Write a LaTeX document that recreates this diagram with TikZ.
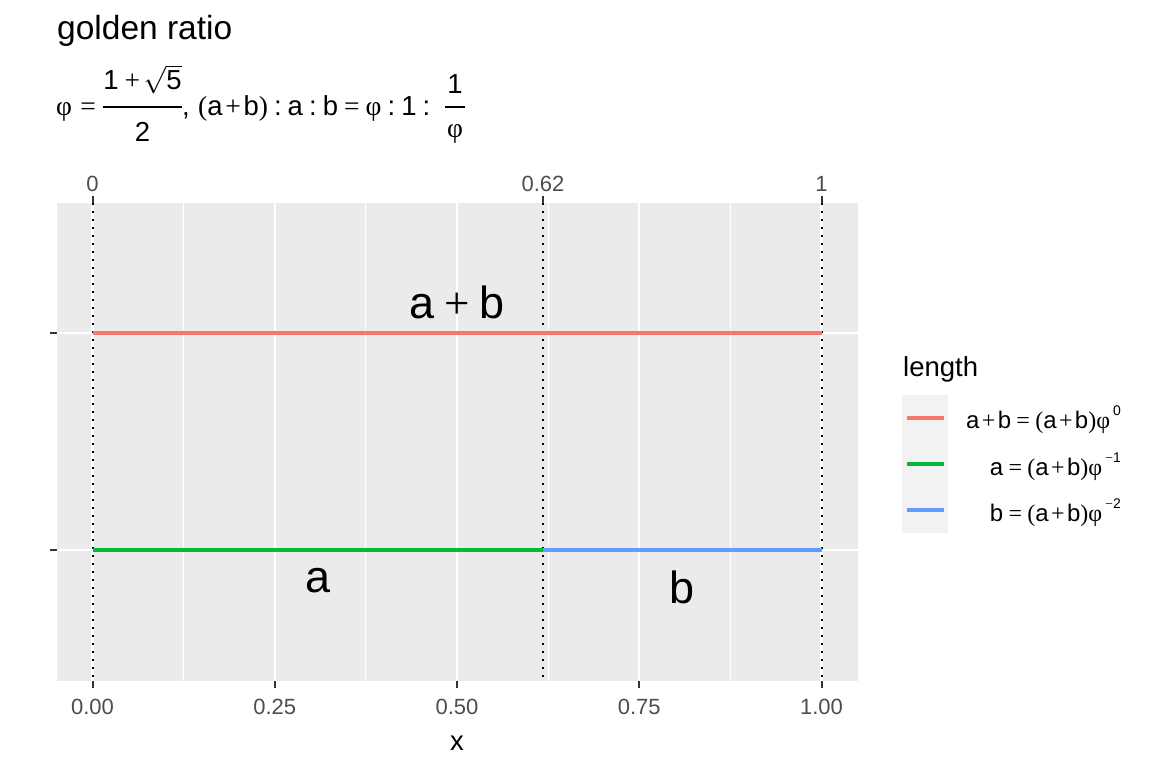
\RequirePackage{fix-cm}
\documentclass[tikz,border=0pt]{standalone}
\usepackage{fontspec}
\setmainfont{Liberation Sans}
\newfontfamily\tms{Liberation Serif}
\definecolor{panelbg}{HTML}{EBEBEB}
\definecolor{keybg}{HTML}{F2F2F2}
\definecolor{ggred}{HTML}{F8766D}
\definecolor{gggreen}{HTML}{00BA38}
\definecolor{ggblue}{HTML}{619CFF}
\definecolor{tickc}{HTML}{333333}
\definecolor{labc}{HTML}{4D4D4D}
\newcommand\gph{{\tms φ}}
\newcommand\gop[1]{\hspace{.2em}{\tms #1}\hspace{.2em}}
\newcommand\gpl{\hspace{.1em}{\tms +}\hspace{.1em}}
\newcommand\geqs{\hspace{.22em}{\tms =}\hspace{.22em}}
\newcommand\gcol{\hspace{.22em}:\hspace{.22em}}
\newcommand\gsup[1]{\hspace{.12em}\raisebox{12.5pt}{\fontsize{14}{16}\selectfont #1}}
\tikzset{
  major/.style={draw=white, line width=2.1pt},
  minor/.style={draw=white, line width=1pt},
  tick/.style={draw=tickc, line width=2pt},
  vdot/.style={draw=black, line width=2pt, dash pattern=on 2pt off 6pt},
  seg/.style={line width=4.5pt},
  fbar/.style={draw=black, line width=1.6pt},
  sub/.style={inner sep=0pt, font=\fontsize{27.5}{32}\selectfont},
  ticklab/.style={text=labc, inner sep=0pt, anchor=base, font=\fontsize{22}{26}\selectfont},
  ann/.style={inner sep=0pt, anchor=base, font=\fontsize{45}{54}\selectfont},
  legtxt/.style={inner sep=0pt, anchor=base east, font=\fontsize{24}{28}\selectfont},
  key/.style={line width=4.5pt}
}
\begin{document}
\begin{tikzpicture}[x=1pt,y=-1pt]
\useasboundingbox (0,0) rectangle (1152,768);
% title
\node[anchor=base west, inner sep=0pt, font=\fontsize{33.5}{40}\selectfont] (title) at (57,40) {golden ratio};
% subtitle formula
\node[sub, anchor=base west] (phieq) at (56,116) {\gph\hspace{.3em}{\tms =}};
\coordinate (b1l) at (103,107);
\coordinate (b1r) at (182,107);
\draw[fbar] (b1l) -- (b1r);
\node[sub, anchor=base] (num1) at (142.5,90) {1\hspace{.22em}{\tms +}\hspace{.12em}$\sqrt{\hbox{5}}$};
\node[sub, anchor=base] (den1) at (142.5,141) {2};
\node[sub, anchor=base west] (rest) at (182,116) {,\hspace{.3em}{\tms(}a\gpl b{\tms)}\gcol a\gcol b\geqs\gph\gcol 1\gcol};
\coordinate (b2l) at (445,107);
\coordinate (b2r) at (465,107);
\draw[fbar] (b2l) -- (b2r);
\node[sub, anchor=base] (num2) at (455,93) {1};
\node[sub, anchor=base] (den2) at (455,137) {\gph};
% panel
\fill[panelbg] (57,203) rectangle (858,681);
\foreach \x in {183.6,365.9,548.1,730.4} \draw[minor] (\x,203) -- (\x,681);
\foreach \x in {92.5,274.75,457,639.25,821.5} \draw[major] (\x,203) -- (\x,681);
\foreach \y in {333,550} \draw[major] (57,\y) -- (858,\y);
% dotted verticals
\foreach \x in {92.5,543,821.5} \draw[vdot] (\x,203) -- (\x,681);
% segments
\draw[seg, ggred] (92.5,333) -- (821.5,333);
\draw[seg, gggreen] (92.5,550) -- (543,550);
\draw[seg, ggblue] (543,550) -- (821.5,550);
% annotations
\node[ann] (lab) at (457,318) {a\hspace{.22em}{\tms +}\hspace{.22em}b};
\node[ann] (la) at (318,592) {a};
\node[ann] (lb) at (682.5,603) {b};
% y ticks
\foreach \y in {333,550} \draw[tick] (50,\y) -- (57,\y);
% bottom axis
\foreach \x/\t in {92.5/0.00,274.75/0.25,457/0.50,639.25/0.75,821.5/1.00}{
  \draw[tick] (\x,681) -- (\x,688);
  \node[ticklab] at (\x,714) {\t};
}
% top axis
\foreach \x/\t in {92.5/0,543/0.62,821.5/1}{
  \draw[tick] (\x,196) -- (\x,203);
  \node[ticklab] at (\x,191) {\t};
}
\node[inner sep=0pt, anchor=base, font=\fontsize{27.5}{32}\selectfont] (xlab) at (457,750) {x};
% legend
\node[anchor=base west, inner sep=0pt, font=\fontsize{27.5}{32}\selectfont] (legtitle) at (903,376) {length};
\fill[keybg] (902,395) rectangle (948,533);
\draw[key, ggred] (907,418) -- (944,418);
\draw[key, gggreen] (907,464) -- (944,464);
\draw[key, ggblue] (907,510) -- (944,510);
\node[legtxt] (l1) at (1121,428) {a\gpl b\geqs{\tms(}a\gpl b{\tms)}\gph\gsup{0}};
\node[legtxt] (l2) at (1121,475) {a\geqs{\tms(}a\gpl b{\tms)}\gph\gsup{{\tms −}1}};
\node[legtxt] (l3) at (1121,521) {b\geqs{\tms(}a\gpl b{\tms)}\gph\gsup{{\tms −}2}};
\end{tikzpicture}
\end{document}
